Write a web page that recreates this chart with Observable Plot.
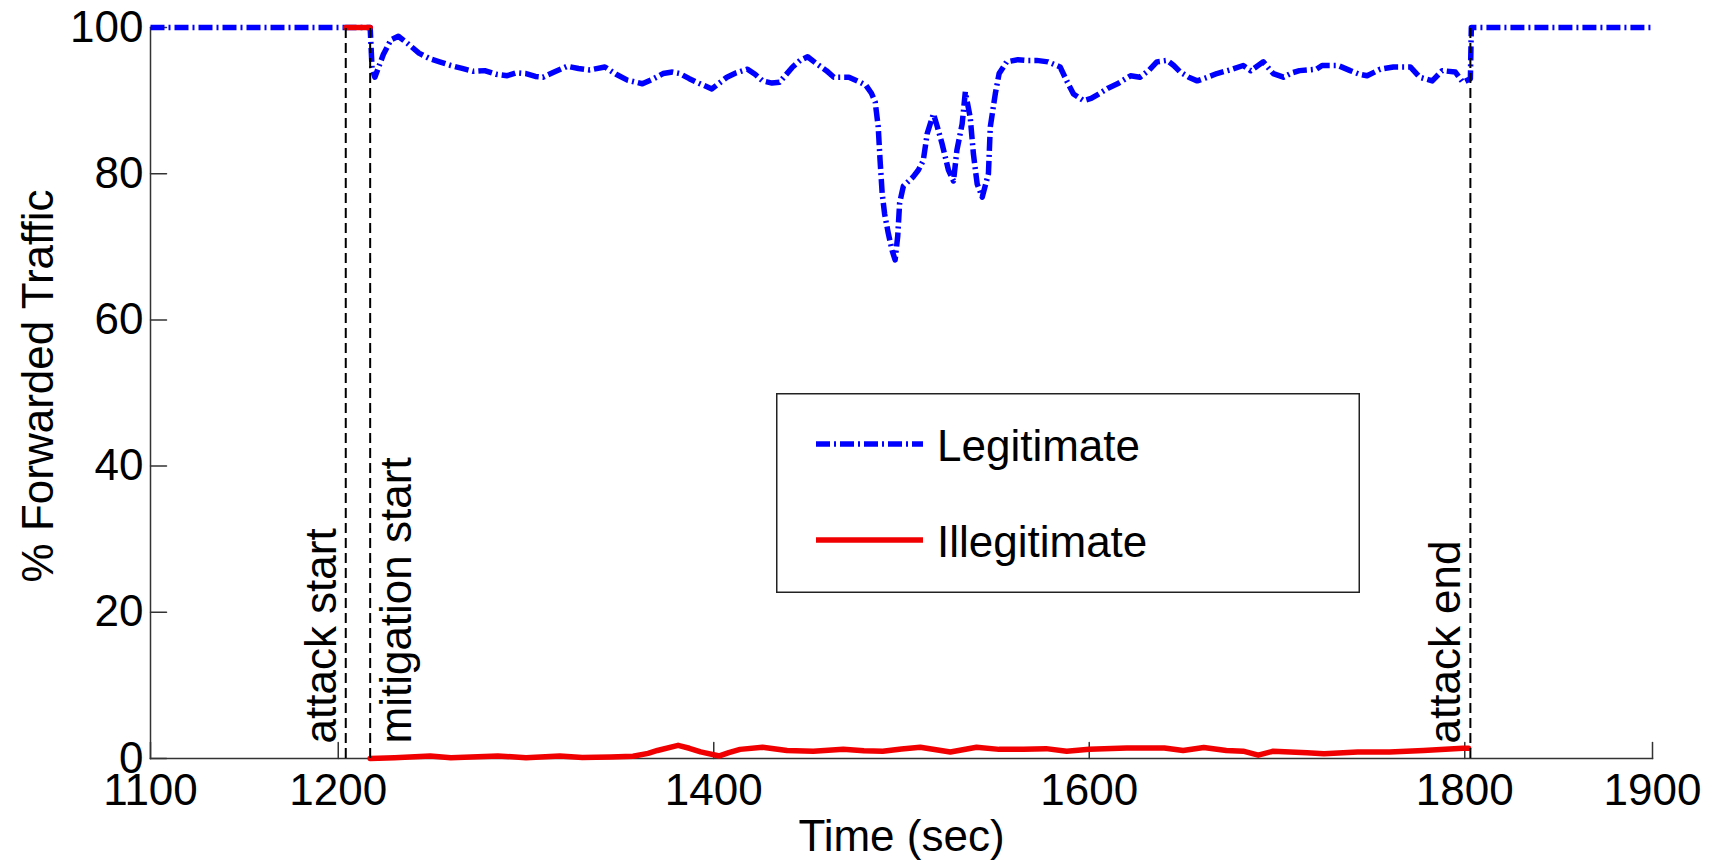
<!DOCTYPE html>
<html>
<head>
<meta charset="utf-8">
<script src="https://cdn.jsdelivr.net/npm/d3@7"></script>
<script src="https://cdn.jsdelivr.net/npm/@observablehq/plot@0.6"></script>
<style>
  html, body { margin: 0; padding: 0; background: #fff; }
  #wrap { position: relative; width: 1719px; height: 860px; font-family: "Liberation Sans", Arial, sans-serif; }
  #legend { position: absolute; left: 776px; top: 393px; }
</style>
</head>
<body>
<div id="wrap"></div>
<script>
// ---------- data ----------
const legitTime = [1100, 1217, 1218, 1219.5, 1224, 1228, 1232, 1237, 1243, 1249, 1254, 1260, 1266, 1272, 1278, 1284, 1290, 1295, 1300, 1305, 1309, 1315, 1322, 1328, 1334, 1342, 1348, 1354, 1362, 1368, 1373, 1378, 1382, 1387, 1391, 1399, 1403, 1407, 1412, 1418, 1422, 1426, 1431, 1435, 1442, 1446, 1450, 1455, 1460, 1464, 1472, 1478, 1481, 1484, 1486, 1487.6, 1488.6, 1489.7, 1491, 1493, 1495, 1496.6, 1498, 1499, 1501, 1506, 1509, 1511.6, 1513.7, 1517, 1519, 1521.6, 1525, 1527.7, 1529.5, 1532.3, 1534, 1536.6, 1538.3, 1540.3, 1543, 1546.3, 1547.3, 1550, 1552, 1556, 1562, 1567, 1572, 1578, 1584.5, 1588, 1591.6, 1597, 1601, 1605, 1610, 1615, 1622, 1627, 1632, 1636, 1641.5, 1645, 1648.5, 1653, 1657.5, 1663, 1668, 1675, 1682, 1686, 1692.7, 1698, 1703.4, 1708, 1712, 1721, 1724, 1732.6, 1739, 1744, 1748, 1755, 1762, 1771, 1776, 1782.7, 1788, 1795, 1799, 1803, 1803.5, 1900];
const legitValue = [100, 100, 94.5, 93.2, 96.3, 98.3, 98.8, 97.8, 96.5, 95.7, 95.3, 94.8, 94.4, 94.0, 94.1, 93.6, 93.4, 93.8, 93.7, 93.3, 93.2, 93.9, 94.7, 94.4, 94.2, 94.6, 93.6, 92.8, 92.3, 93.0, 93.7, 93.9, 93.7, 93.0, 92.5, 91.6, 92.4, 93.2, 93.8, 94.3, 93.6, 92.7, 92.4, 92.5, 94.6, 95.5, 96.0, 95.0, 94.1, 93.2, 93.2, 92.5, 92.1, 91.0, 89.8, 86.4, 81.8, 77.3, 74.5, 71.8, 69.5, 68.2, 71.5, 76.0, 78.3, 79.5, 80.5, 81.8, 85.5, 88.2, 86.5, 84.1, 80.5, 79.0, 83.2, 86.8, 91.2, 87.7, 82.7, 78.6, 76.8, 80.0, 86.4, 91.0, 93.7, 95.3, 95.6, 95.5, 95.5, 95.3, 94.6, 92.7, 90.9, 90.0, 90.3, 90.9, 91.7, 92.3, 93.4, 93.2, 94.2, 95.3, 95.5, 94.8, 93.9, 93.2, 92.7, 93.2, 93.7, 94.2, 94.8, 94.1, 95.3, 93.7, 93.2, 93.8, 94.1, 94.3, 94.8, 94.8, 94.1, 93.6, 93.4, 94.3, 94.6, 94.6, 93.2, 92.7, 94.1, 93.9, 92.5, 93.0, 100, 100];

// illegitimate traffic: during attack before mitigation, then after mitigation start
const illegitAttackTime = [1204, 1217];
const illegitAttackValue = [100, 100];
const illegitMitigTime = [1217, 1230, 1249, 1260, 1285, 1300, 1318, 1330, 1345, 1357, 1365, 1370, 1381, 1387, 1393, 1403, 1408, 1414, 1426, 1439, 1453, 1469, 1480, 1490, 1500, 1510, 1526, 1540, 1552, 1565, 1577, 1588, 1600, 1620, 1640, 1650, 1661, 1673, 1682, 1690, 1698, 1716, 1725, 1743, 1760, 1778, 1799, 1802];
const illegitMitigValue = [0, 0.1, 0.35, 0.1, 0.35, 0.1, 0.35, 0.15, 0.2, 0.3, 0.7, 1.1, 1.8, 1.4, 0.9, 0.35, 0.8, 1.25, 1.55, 1.1, 1.0, 1.25, 1.05, 1.0, 1.3, 1.55, 0.9, 1.55, 1.25, 1.25, 1.35, 1.0, 1.25, 1.45, 1.45, 1.1, 1.5, 1.1, 1.0, 0.45, 1.0, 0.8, 0.65, 0.9, 0.9, 1.1, 1.4, 1.4];

const eventTimes = [1204, 1217, 1803];
const eventLabels = ["attack start", "mitigation start", "attack end"];
const eventSides = ["left", "right", "left"];

const xTicks = [1100, 1200, 1400, 1600, 1800, 1900];
const yTicks = [0, 20, 40, 60, 80, 100];

const seriesNames = ["Legitimate", "Illegitimate"];
const xLabel = "Time (sec)";
const yLabel = "% Forwarded Traffic";

// ---------- build ----------
const legit = legitTime.map((t, i) => ({t, v: legitValue[i]}));
const illA = illegitAttackTime.map((t, i) => ({t, v: illegitAttackValue[i]}));
const illM = illegitMitigTime.map((t, i) => ({t, v: illegitMitigValue[i]}));
const events = eventTimes.map((t, i) => ({t, label: eventLabels[i], side: eventSides[i]}));

const BLUE = "#0000ff", RED = "#f00000", AX = "#333";
const FONT = "'Liberation Sans', Arial, Helvetica, sans-serif";
const blueDash = "14,4,2,4";
const LINE_W = 5.5;
const tickShape = {draw(ctx, l) { ctx.moveTo(0, 0); ctx.lineTo(0, -l); }};

const chart = Plot.plot({
  width: 1719,
  height: 860,
  marginLeft: 150,
  marginRight: 67,
  marginTop: 27,
  marginBottom: 102,
  style: {fontFamily: FONT, fontSize: "44px", color: "#000", background: "#fff", overflow: "visible"},
  x: {domain: [1100, 1900]},
  y: {domain: [0, 100]},
  marks: [
    Plot.frame({anchor: "left", stroke: AX, strokeWidth: 1.5}),
    Plot.frame({anchor: "bottom", stroke: AX, strokeWidth: 1.5}),
    Plot.vector(xTicks, {x: d => d, frameAnchor: "bottom", length: 16, rotate: 0, anchor: "start", shape: tickShape, stroke: AX, strokeWidth: 1.5}),
    Plot.vector(yTicks, {y: d => d, frameAnchor: "left", length: 16, rotate: 90, anchor: "start", shape: tickShape, stroke: AX, strokeWidth: 1.5}),
    Plot.axisX({ticks: xTicks, tickSize: 0, tickPadding: 15, fontSize: 44, label: null, tickFormat: d => String(d)}),
    Plot.axisY({ticks: yTicks, tickSize: 0, tickPadding: 7, fontSize: 44, label: null}),
    Plot.line(legit, {x: "t", y: "v", stroke: BLUE, strokeWidth: LINE_W, strokeDasharray: blueDash, strokeLinecap: "butt", strokeLinejoin: "round"}),
    Plot.line(illA, {x: "t", y: "v", stroke: RED, strokeWidth: LINE_W}),
    Plot.line(illM, {x: "t", y: "v", stroke: RED, strokeWidth: LINE_W, strokeLinejoin: "round"}),
    Plot.ruleX(events, {x: "t", y1: 0, y2: 100, stroke: "#000", strokeWidth: 2, strokeDasharray: "10,5"}),
    Plot.text(events.filter(d => d.side === "left"), {x: "t", text: "label", frameAnchor: "bottom", rotate: -90, textAnchor: "start", lineAnchor: "bottom", dx: -10, dy: -15, fontSize: 44, fill: "#000"}),
    Plot.text(events.filter(d => d.side === "right"), {x: "t", text: "label", frameAnchor: "bottom", rotate: -90, textAnchor: "start", lineAnchor: "top", dx: 10, dy: -15, fontSize: 44, fill: "#000"}),
    Plot.text([yLabel], {text: d => d, frameAnchor: "left", rotate: -90, textAnchor: "middle", lineAnchor: "bottom", dx: -98, dy: -7, fontSize: 44, fill: "#000"}),
    Plot.text([xLabel], {text: d => d, frameAnchor: "bottom", textAnchor: "middle", lineAnchor: "bottom", dy: 92, fontSize: 44, fill: "#000"})
  ]
});

const wrap = document.getElementById("wrap");
wrap.appendChild(chart);

// ---------- legend (inside plot area, overlaid) ----------
const LW = 584, LH = 200;
const legendColors = [BLUE, RED];
const legendDash = [blueDash, null];
const legendRowsY = [51, 147];
const leg = d3.select(wrap).append("svg")
  .attr("id", "legend")
  .attr("width", LW).attr("height", LH)
  .style("font-family", FONT);
leg.append("rect").attr("x", 0.75).attr("y", 0.75).attr("width", LW - 1.5).attr("height", LH - 1.5)
  .attr("fill", "#fff").attr("stroke", "#222").attr("stroke-width", 1.5);
seriesNames.forEach((name, i) => {
  const y = legendRowsY[i];
  const ln = leg.append("line").attr("x1", 40).attr("x2", 147).attr("y1", y).attr("y2", y)
    .attr("stroke", legendColors[i]).attr("stroke-width", LINE_W);
  if (legendDash[i]) ln.attr("stroke-dasharray", legendDash[i]);
  leg.append("text").attr("x", 161).attr("y", y + 17).attr("font-size", 44).attr("fill", "#000").text(name);
});
</script>
</body>
</html>
